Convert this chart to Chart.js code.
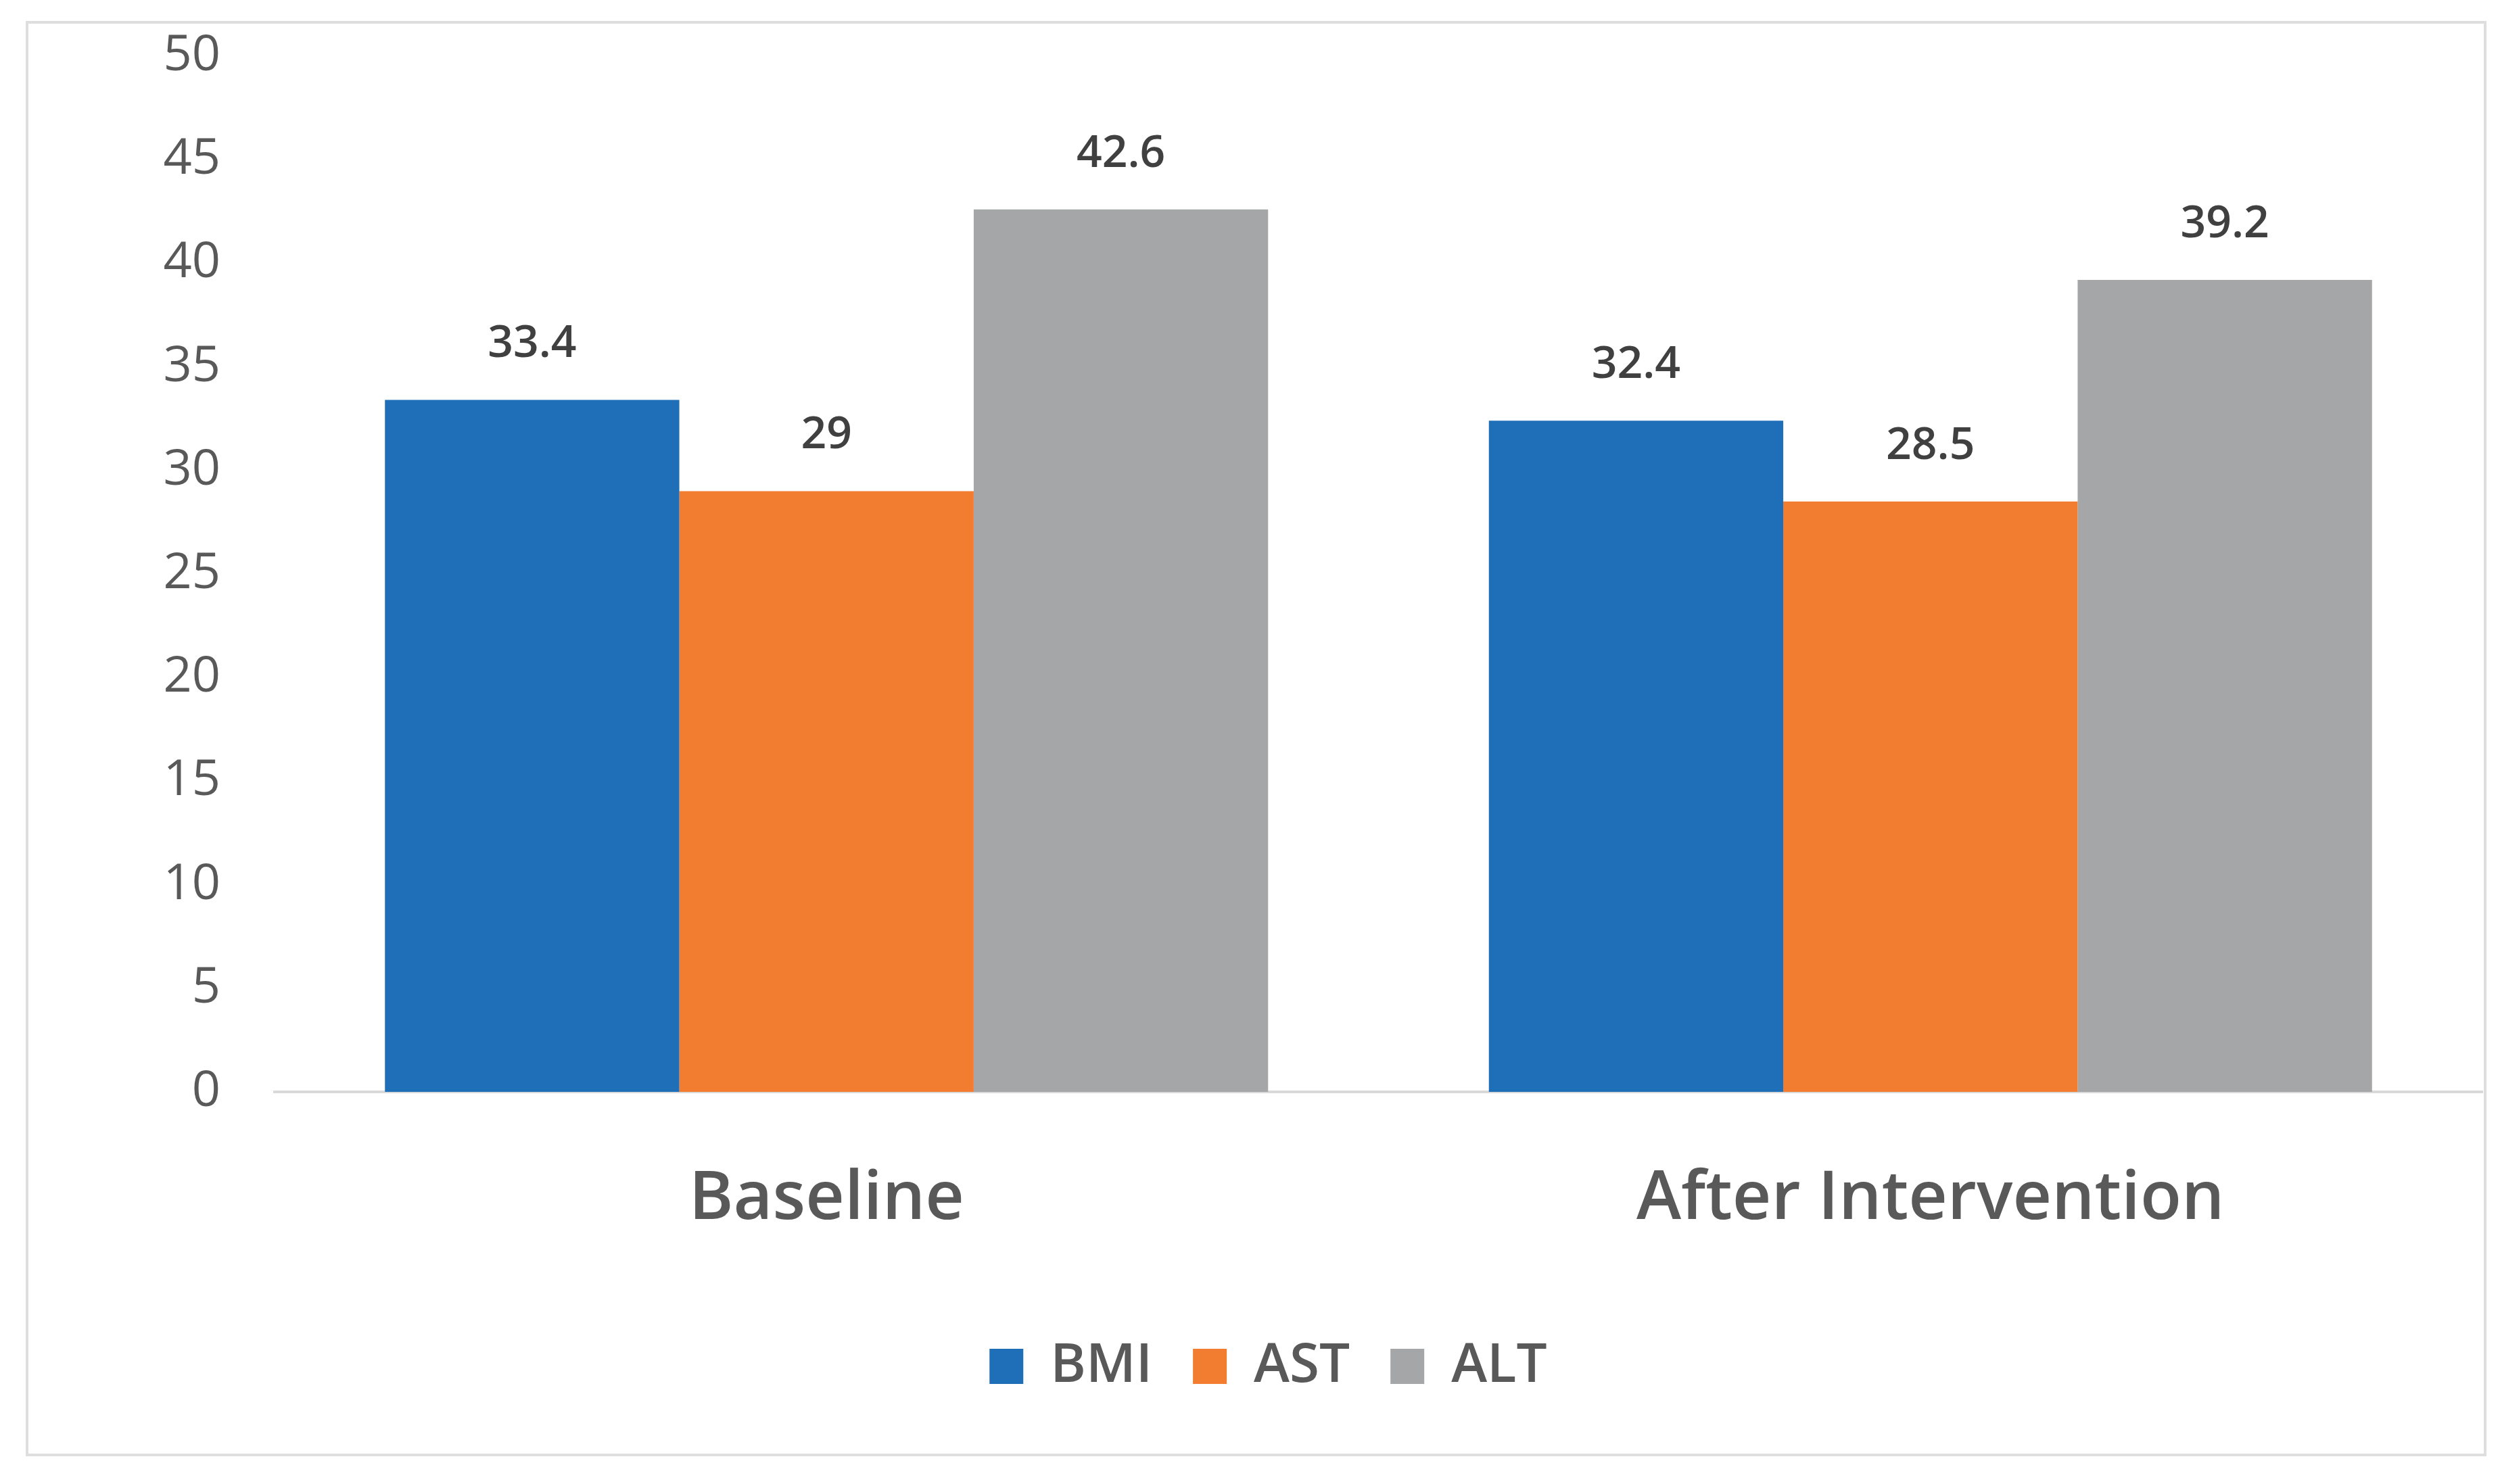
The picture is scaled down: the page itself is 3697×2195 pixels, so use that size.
<!DOCTYPE html>
<html>
<head>
<meta charset="utf-8">
<script src="https://cdn.jsdelivr.net/npm/chart.js@4.4.1/dist/chart.umd.min.js"></script>
<style>
  html, body { margin: 0; padding: 0; background: #ffffff; }
  #wrap { position: relative; width: 3697px; height: 2195px; }
  #frame {
    position: absolute; left: 38px; top: 31px; width: 3631px; height: 2115px;
    border: 4px solid #dedede; pointer-events: none;
  }
  canvas { position: absolute; left: 0; top: 0; }
</style>
</head>
<body>
<div id="wrap">
  <canvas id="labChart" width="3697" height="2195"></canvas>
  <div id="frame"></div>
</div>
<script>
// ---------------------------------------------- DATA ----------------------------------------------
const categories = ['Baseline', 'After Intervention'];
const seriesNames = ['BMI', 'AST', 'ALT'];
const bmiValues = [33.4, 32.4];
const astValues = [29, 28.5];
const altValues = [42.6, 39.2];
const seriesColors = ['#1f6fb8', '#f27c30', '#a5a6a8'];

const FONT = '"Open Sans", "Noto Sans", sans-serif';

// draws the value above every bar (no datalabels plugin available)
const barValueLabels = {
    id: 'barValueLabels',
    afterDatasetsDraw(chart) {
        const ctx = chart.ctx;
        ctx.save();
        ctx.font = '600 66px ' + FONT;
        ctx.fillStyle = '#404040';
        ctx.textAlign = 'center';
        ctx.textBaseline = 'middle';
        chart.data.datasets.forEach((ds, i) => {
            const meta = chart.getDatasetMeta(i);
            meta.data.forEach((bar, j) => {
                ctx.fillText(String(ds.data[j]), bar.x, bar.y - 82);
            });
        });
        ctx.restore();
    }
};

const ctx = document.getElementById('labChart').getContext('2d');
const labChart = new Chart(ctx, {
    type: 'bar',
    data: {
        labels: categories,
        datasets: [
            { label: seriesNames[0], data: bmiValues, backgroundColor: seriesColors[0] },
            { label: seriesNames[1], data: astValues, backgroundColor: seriesColors[1] },
            { label: seriesNames[2], data: altValues, backgroundColor: seriesColors[2] }
        ]
    },
    options: {
        responsive: false,
        animation: false,
        devicePixelRatio: 1,
        categoryPercentage: 0.8,
        barPercentage: 1.0,
        layout: {
            padding: { left: 80, right: 26, top: 83, bottom: 124 }
        },
        scales: {
            x: {
                grid: { display: false, drawTicks: false, tickLength: 0 },
                border: { display: true, color: '#d9d9d9', width: 4 },
                ticks: {
                    color: '#595959',
                    padding: 100,
                    font: { family: FONT, size: 100, weight: '600' }
                },
                afterFit(scale) { scale.height = 306; }
            },
            y: {
                min: 0,
                max: 50,
                grid: { display: false, drawTicks: false },
                border: { display: false },
                ticks: {
                    stepSize: 5,
                    color: '#595959',
                    padding: 80,
                    font: { family: FONT, size: 74, weight: '500' }
                },
                afterFit(scale) {
                    scale.width = 326;
                    scale.paddingTop = 0;
                    scale.paddingBottom = 0;
                }
            }
        },
        plugins: {
            legend: {
                position: 'bottom',
                labels: {
                    boxWidth: 50,
                    boxHeight: 52,
                    padding: 60,
                    color: '#595959',
                    font: { family: FONT, size: 80, weight: '600' }
                }
            },
            tooltip: { enabled: false }
        }
    },
    plugins: [barValueLabels]
});
</script>
</body>
</html>
